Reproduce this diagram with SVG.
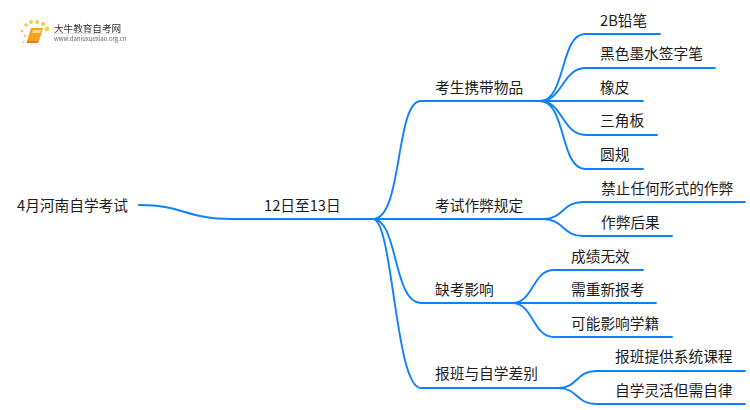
<svg xmlns="http://www.w3.org/2000/svg" width="750" height="410" viewBox="0 0 750 410">
<style>
text{font-family:"Noto Sans CJK SC","Noto Sans",sans-serif;font-size:14.7px;fill:#1c1c1c}
.c path{fill:none;stroke:#0f82fa;stroke-width:1.9;stroke-linecap:round}
.c path.t{stroke-width:2.1}
</style>
<defs><filter id="b" x="-10%" y="-30%" width="120%" height="160%"><feGaussianBlur stdDeviation="0.35"/></filter></defs>
<rect width="750" height="410" fill="#fff"/>
<g class="c" id="connectors">
<path class="t" d="M139 205C185 205 185 219 232 219H373"/>
<path d="M373 219C403 219 395 101 421 101H540"/>
<path class="t" d="M373 219H545"/>
<path d="M373 219C398 219 393 303 421 303H512"/>
<path d="M373 219C393 219 395 388 421 388H558"/>
<path d="M540 101C566 101 560 34 585 34H660"/>
<path d="M540 101C563 101 562 68 586 68H715"/>
<path d="M540 101H643"/>
<path d="M540 101C563 101 562 135 586 135H657"/>
<path d="M540 101C566 101 560 169 585 169H643"/>
<path d="M543 219C564 219 562 202 583 202H745"/>
<path d="M543 219C564 219 562 236 583 236H672"/>
<path d="M512 303C534 303 532 270 554 270H643"/>
<path d="M512 303H656"/>
<path d="M512 303C534 303 532 337 554 337H672"/>
<path d="M558 388C578 388 576 371 596 371H745"/>
<path d="M558 388C578 388 576 404 596 404H745"/>
</g>
<g id="logo">
<g fill="#fbc84e"><circle cx="47" cy="29" r="2.2"/><circle cx="26" cy="25" r="1.8"/><circle cx="31" cy="22" r="2"/><circle cx="37" cy="22" r="2"/><circle cx="43" cy="24" r="2"/><circle cx="22" cy="31" r="1.3"/><circle cx="25" cy="36" r="1.2"/><circle cx="23" cy="42" r="1"/></g>
<path d="M31 28H43L39 41H27Z" fill="#f5a31f"/><path d="M27 41H39L38 43H27Z" fill="#e8791a"/><path d="M33 30H41L40 33H32Z" fill="#fbd98a"/>
<g filter="url(#b)"><text x="54" y="31.500" style="font-size:9.600px;fill:#333">大牛教育自考网</text>
<text x="54" y="41" style="font-size:6px;fill:#666">www.daniuxuexiao.org.cn</text></g>
<path d="M54 33.500H122" stroke="#ccc" stroke-width=".6"/>
</g>
<g id="root"><text x="17" y="211">4月河南自学考试</text></g>
<g id="n-date"><text x="264" y="211">12日至13日</text></g>
<g id="n1"><text x="435" y="93">考生携带物品</text></g>
<g id="n2"><text x="435" y="211">考试作弊规定</text></g>
<g id="n3"><text x="435" y="295">缺考影响</text></g>
<g id="n4"><text x="435" y="379">报班与自学差别</text></g>
<g id="n1-1"><text x="600" y="26">2B铅笔</text></g>
<g id="n1-2"><text x="600" y="59">黑色墨水签字笔</text></g>
<g id="n1-3"><text x="600" y="93">橡皮</text></g>
<g id="n1-4"><text x="600" y="126">三角板</text></g>
<g id="n1-5"><text x="600" y="160">圆规</text></g>
<g id="n2-1"><text x="601" y="194">禁止任何形式的作弊</text></g>
<g id="n2-2"><text x="601" y="228">作弊后果</text></g>
<g id="n3-1"><text x="571" y="262">成绩无效</text></g>
<g id="n3-2"><text x="571" y="295">需重新报考</text></g>
<g id="n3-3"><text x="571" y="329">可能影响学籍</text></g>
<g id="n4-1"><text x="615" y="362">报班提供系统课程</text></g>
<g id="n4-2"><text x="615" y="396">自学灵活但需自律</text></g>
</svg>
